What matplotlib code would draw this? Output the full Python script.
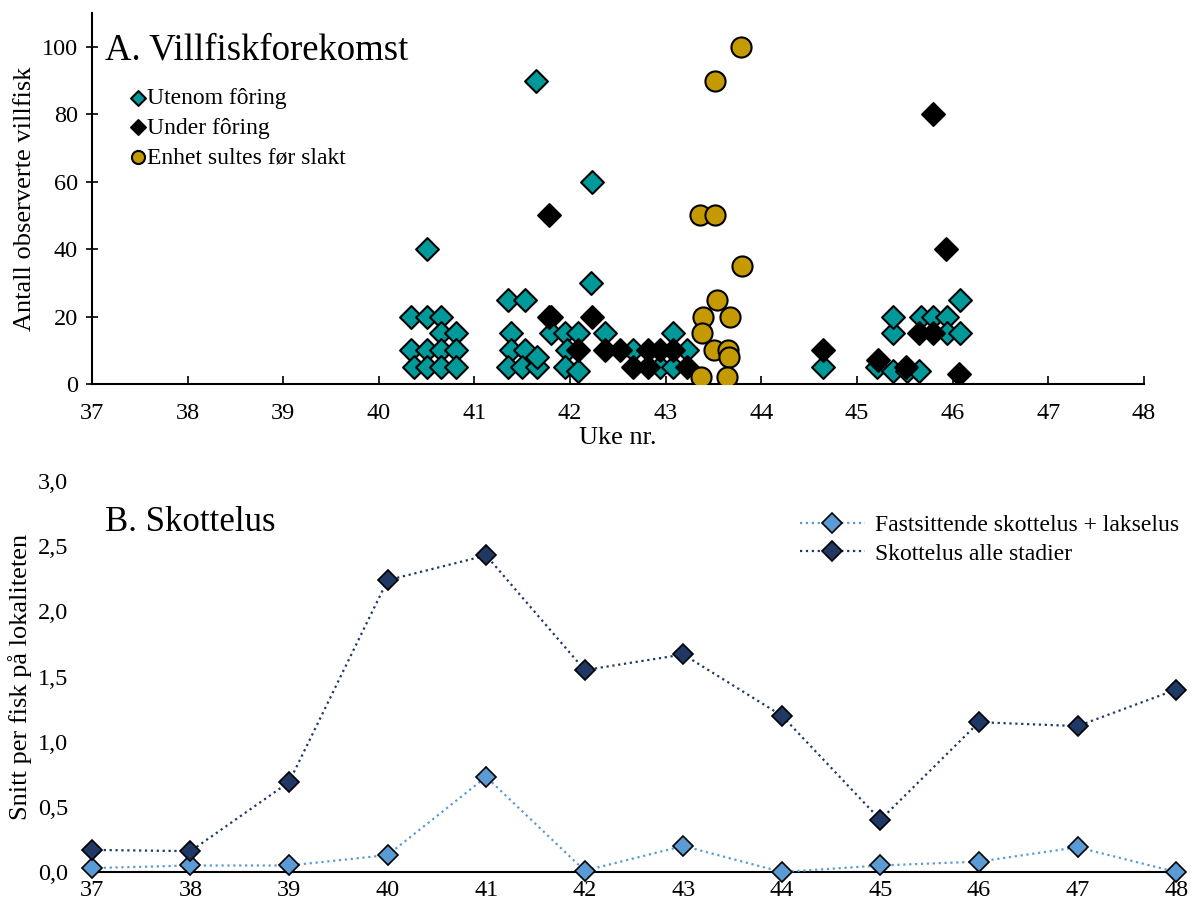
import matplotlib.pyplot as plt
from matplotlib.ticker import FuncFormatter

plt.rcParams['font.family'] = ['Liberation Serif', 'DejaVu Serif']

# A. Villfiskforekomst (uke, antall)
utenom_x = [40.34, 40.50, 40.65, 40.50, 40.65, 40.81, 40.34, 40.50, 40.65, 40.81,
            40.37, 40.50, 40.65, 40.81, 41.35, 41.53, 41.38, 41.38, 41.53, 41.35,
            41.50, 41.65, 41.65, 41.64, 41.80, 41.80, 41.95, 42.08, 41.97, 41.95,
            42.08, 42.23, 42.22, 42.37, 42.66, 43.08, 43.22, 42.94, 43.08, 44.65,
            45.21, 45.38, 45.52, 45.65, 45.38, 45.38, 45.67, 45.80, 45.94, 45.94,
            46.08, 46.08]
utenom_y = [20, 20, 20, 40, 15, 15, 10, 10, 10, 10,
            5, 5, 5, 5, 25, 25, 15, 10, 10, 5,
            5, 5, 8, 90, 20, 15, 15, 15, 10, 5,
            4, 60, 30, 15, 10, 15, 10, 5, 5, 5,
            5, 4, 4, 4, 15, 20, 20, 20, 20, 15,
            15, 25]

under_x = [41.78, 41.78, 42.08, 42.23, 42.37, 42.52, 42.66, 42.81, 42.81, 42.94,
           43.08, 43.22, 44.65, 45.22, 45.51, 45.65, 45.80, 45.80, 45.93, 46.07]
under_y = [50, 20, 10, 20, 10, 10, 5, 10, 5, 10,
           10, 5, 10, 7, 5, 15, 15, 80, 40, 3]

sultes_x = [43.36, 43.52, 43.80, 43.54, 43.39, 43.67, 43.38, 43.50, 43.65, 43.66,
            43.37, 43.64, 43.52, 43.79]
sultes_y = [50, 50, 35, 25, 20, 20, 15, 10, 10, 8, 2, 2, 90, 100]

# B. Skottelus
uker = [37, 38, 39, 40, 41, 42, 43, 44, 45, 46, 47, 48]
fastsittende = [0.03, 0.05, 0.05, 0.13, 0.73, 0.01, 0.20, 0.00, 0.05, 0.08, 0.19, 0.00]
alle_stadier = [0.17, 0.16, 0.69, 2.24, 2.43, 1.55, 1.67, 1.20, 0.40, 1.15, 1.12, 1.40]

teal = '#009999'
gull = '#C49A00'
lysbla = '#5B9BD5'
morkbla = '#1F3864'

fig = plt.figure(figsize=(11.94, 9.11), dpi=100)

# --- panel A ---
ax1 = fig.add_axes([0.077, 0.5785, 0.881, 0.407])
ax1.scatter(utenom_x, utenom_y, marker='D', s=135, c=teal, edgecolors='black',
            linewidths=1.5, zorder=3, label='Utenom fôring')
ax1.scatter(under_x, under_y, marker='D', s=135, c='black', edgecolors='black',
            linewidths=1.5, zorder=3, label='Under fôring')
ax1.scatter(sultes_x, sultes_y, marker='o', s=210, c=gull, edgecolors='black',
            linewidths=1.5, zorder=3, label='Enhet sultes før slakt')
ax1.set_xlim(37, 48)
ax1.set_ylim(0, 110)
ax1.set_xticks(range(37, 49))
ax1.set_yticks(range(0, 101, 20))
ax1.spines['top'].set_visible(False)
ax1.spines['right'].set_visible(False)
ax1.spines['left'].set_linewidth(1.5)
ax1.spines['bottom'].set_linewidth(1.5)
ax1.tick_params(axis='x', direction='in', length=6, width=1.2, labelsize=17.5, pad=14)
ax1.tick_params(axis='y', direction='inout', length=8, width=1.2, labelsize=17.5, pad=6)
ax1.set_xlabel('Uke nr.', fontsize=19, labelpad=2)
ax1.set_ylabel('Antall observerte villfisk', fontsize=19, labelpad=4)
ax1.text(0.012, 0.90, 'A. Villfiskforekomst', transform=ax1.transAxes,
         fontsize=26.5, va='center', ha='left')
ax1.legend(loc='upper left', bbox_to_anchor=(0.037, 0.80), frameon=False,
           fontsize=17, markerscale=0.65, handletextpad=0.1, labelspacing=0.35,
           borderpad=0, handlelength=0.6, borderaxespad=0)

# --- panel B ---
ax2 = fig.add_axes([0.077, 0.0428, 0.908, 0.429])
ax2.plot(uker, fastsittende, linestyle=':', color=lysbla, linewidth=1.6,
         marker='D', markersize=10, markerfacecolor=lysbla, markeredgecolor='black',
         markeredgewidth=1.2, clip_on=False, zorder=3,
         label='Fastsittende skottelus + lakselus')
ax2.plot(uker, alle_stadier, linestyle=':', color=morkbla, linewidth=1.6,
         marker='D', markersize=10, markerfacecolor=morkbla, markeredgecolor='black',
         markeredgewidth=1.2, clip_on=False, zorder=3,
         label='Skottelus alle stadier')
ax2.set_xlim(37, 48)
ax2.set_ylim(0, 3.0)
ax2.set_xticks(uker)
ax2.set_yticks([0, 0.5, 1.0, 1.5, 2.0, 2.5, 3.0])
ax2.yaxis.set_major_formatter(FuncFormatter(lambda v, p: f'{v:.1f}'.replace('.', ',')))
for s in ['top', 'right', 'left']:
    ax2.spines[s].set_visible(False)
ax2.spines['bottom'].set_linewidth(1.5)
ax2.tick_params(axis='both', length=0, labelsize=17.5)
ax2.tick_params(axis='x', pad=6)
ax2.tick_params(axis='y', pad=17)
ax2.set_ylabel('Snitt per fisk på lokaliteten', fontsize=19, labelpad=4)
ax2.text(0.012, 0.895, 'B. Skottelus', transform=ax2.transAxes,
         fontsize=25, va='center', ha='left')
ax2.legend(loc='upper left', bbox_to_anchor=(0.653, 0.915), frameon=False,
           fontsize=17, handlelength=2.75, handletextpad=0.42, labelspacing=0.3,
           borderpad=0, borderaxespad=0)

fig.savefig('out.png', dpi=100)
